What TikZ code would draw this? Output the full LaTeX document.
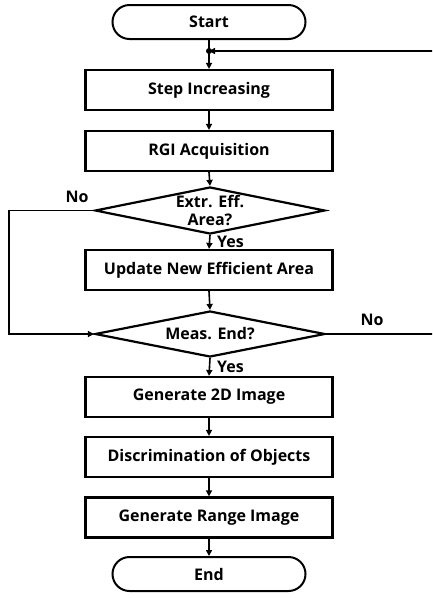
\documentclass[tikz,border=0pt]{standalone}
\usepackage{fontspec}
\setmainfont{Open Sans}
\usetikzlibrary{shapes.geometric,arrows.meta}
\begin{document}
\begin{tikzpicture}[x=1pt,y=-1pt,
  txt/.style={font=\bfseries\fontsize{16}{19.5}\selectfont},
  procbox/.style={txt, draw, line width=2.2pt, minimum width=247pt, minimum height=40pt, inner sep=0pt},
  termbox/.style={txt, draw, line width=2pt, minimum width=193pt, minimum height=34pt, rounded corners=17pt, inner sep=0pt},
  decision/.style={txt, draw, diamond, aspect=4.9, line width=2.2pt, minimum width=230pt, minimum height=47pt, inner sep=-8pt, align=center},
  lbl/.style={txt, inner sep=0pt},
  conn/.style={line width=1.6pt, -{Triangle[length=6pt,width=6pt]}},
  plain/.style={line width=1.6pt}
]
\useasboundingbox (0,0) rectangle (432,598);
\clip (0,0) rectangle (432,598);

\node[termbox] (start) at (209,22) {Start};
\coordinate (junc) at (209,51);
\node[procbox] (step) at (209,90) {Step Increasing};
\node[procbox] (rgi) at (209,151) {RGI Acquisition};
\node[decision] (d1) at (210,210.5) {Extr. Eff.\\[-1pt]Area?};
\node[procbox] (upd) at (209,270) {Update New Efficient Area};
\node[decision, minimum height=46pt] (d2) at (210,334) {Meas. End?};
\node[procbox] (gen2d) at (209,397) {Generate 2D Image};
\node[procbox] (disc) at (209,457) {Discrimination of Objects};
\node[procbox] (genr) at (209,517.5) {Generate Range Image};
\node[termbox] (end) at (209,574) {End};

\coordinate (leftX) at (9,0);
\coordinate (rightX) at (445,0);

\draw[plain] (start.south) -- (junc);
\fill (junc) circle (3pt);
\draw[conn] (junc) -- (step.north);
\draw[conn] (step.south) -- (rgi.north);
\draw[conn] (rgi.south) -- (d1.north);
\draw[conn] (d1.south) -- (upd.north);
\draw[conn] (upd.south) -- (d2.north);
\draw[conn] (d2.south) -- (gen2d.north);
\draw[conn] (gen2d.south) -- (disc.north);
\draw[conn] (disc.south) -- (genr.north);
\draw[conn] (genr.south) -- (end.north);

\draw[conn] (d1.west) -- (leftX |- d1.west) -- (leftX |- d2.west) -- (d2.west);
\draw[conn] (d2.east) -- (rightX |- d2.east) -- (rightX |- junc) -- (junc);

\node[lbl] (no1) at (77,197) {No};
\node[lbl, anchor=west] (yes1) at (217,242) {Yes};
\node[lbl] (no2) at (372,320) {No};
\node[lbl, anchor=west] (yes2) at (217,367) {Yes};
\end{tikzpicture}
\end{document}
